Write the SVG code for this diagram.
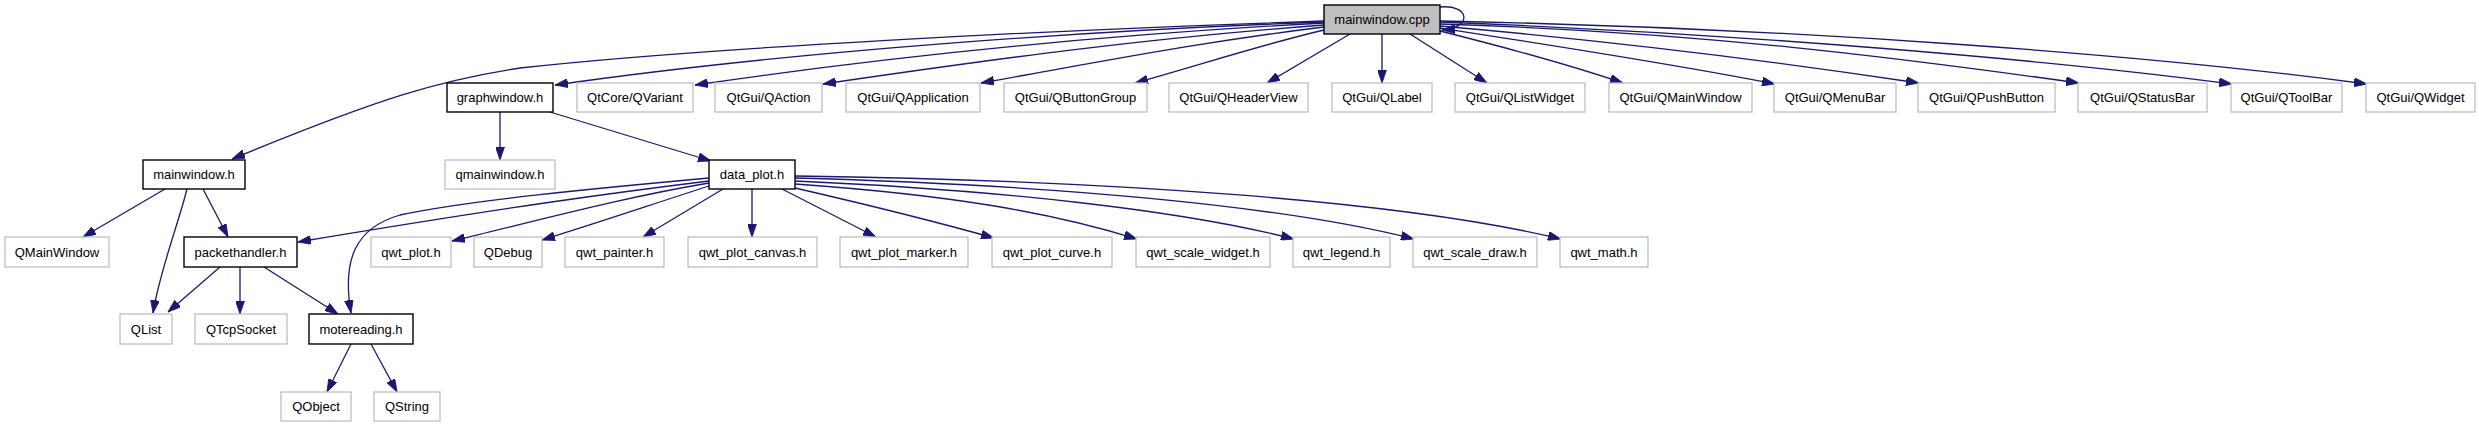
<svg xmlns="http://www.w3.org/2000/svg" width="2479" height="427" viewBox="0 0 2479 427">
<style>
.n rect{fill:#fff;stroke:#bfbfbf;stroke-width:1.3}
.n.b rect{stroke:#000;stroke-width:1.4}
.n.r rect{fill:#bfbfbf;stroke:#000;stroke-width:1.4}
.n text{font-family:"Liberation Sans",Arial,Helvetica,sans-serif;font-size:13px;fill:#000;text-anchor:middle}
.e path{fill:none;stroke:#191970;stroke-width:1.3;marker-end:url(#ah)}
</style>
<defs>
<marker id="ah" markerUnits="userSpaceOnUse" viewBox="0 0 13 9" markerWidth="13" markerHeight="9" refX="13" refY="4.5" orient="auto">
<path d="M0,0 L13,4.5 L0,9 Z" fill="#191970" stroke="#191970" stroke-width="0.8"/>
</marker>
</defs>
<rect width="2479" height="427" fill="#fff"/>
<g id="edges" class="e">
<path d="M1324,21 C1050,30 700,48 520,68 C440,80 380,98 232,159"/>
<path d="M1324,22 C1100,30 800,50 555,85"/>
<path d="M1324,23 C1100,35 900,55 695,85"/>
<path d="M1324,25 C1150,38 1000,58 823,84"/>
<path d="M1324,27 C1200,42 1100,62 981,83"/>
<path d="M1324,30 C1260,45 1200,65 1135,83"/>
<path d="M1350,34 L1267,83"/>
<path d="M1382,34 L1382,83"/>
<path d="M1410,34 L1487,83"/>
<path d="M1440,31 C1500,46 1570,65 1623,83"/>
<path d="M1440,28 C1550,45 1680,65 1775,84"/>
<path d="M1440,26 C1600,40 1780,62 1919,83"/>
<path d="M1440,24 C1700,32 1900,58 2079,83"/>
<path d="M1440,22 C1750,34 2050,60 2232,84"/>
<path d="M1440,21 C1800,28 2150,55 2367,84"/>
<path d="M1440,7 C1470,4 1473,28 1442,30"/>
<path d="M500,112 L500,160"/>
<path d="M550,112 L711,161"/>
<path d="M165,189 L83,237"/>
<path d="M187,189 C178,225 160,270 153,313"/>
<path d="M203,189 L228,237"/>
<path d="M709,181 C620,192 520,205 298,242"/>
<path d="M709,178 C600,188 470,200 400,215 C355,228 342,260 351,313"/>
<path d="M709,183 C620,198 540,220 452,241"/>
<path d="M709,186 C650,205 600,222 542,240"/>
<path d="M723,189 L643,237"/>
<path d="M752,189 L752,237"/>
<path d="M782,189 L876,237"/>
<path d="M795,188 C860,203 930,220 994,238"/>
<path d="M795,184 C950,195 1050,212 1137,239"/>
<path d="M795,181 C1000,190 1180,210 1294,239"/>
<path d="M795,178 C1050,185 1280,205 1414,239"/>
<path d="M795,176 C1100,180 1400,200 1561,239"/>
<path d="M220,267 L168,312"/>
<path d="M240,267 L240,314"/>
<path d="M264,267 L338,314"/>
<path d="M351,344 L327,392"/>
<path d="M371,344 L397,392"/>
</g>
<g id="n_mainwindow_cpp" class="n r"><rect x="1324" y="5" width="116" height="29"/><text x="1382" y="24">mainwindow.cpp</text></g>
<g id="n_graphwindow_h" class="n b"><rect x="447" y="83" width="106" height="29"/><text x="500" y="102">graphwindow.h</text></g>
<g id="n_qvariant" class="n"><rect x="577" y="83" width="116" height="29"/><text x="635" y="102">QtCore/QVariant</text></g>
<g id="n_qaction" class="n"><rect x="715" y="83" width="107" height="29"/><text x="768.5" y="102">QtGui/QAction</text></g>
<g id="n_qapplication" class="n"><rect x="846" y="83" width="134" height="29"/><text x="913" y="102">QtGui/QApplication</text></g>
<g id="n_qbuttongroup" class="n"><rect x="1004" y="83" width="143" height="29"/><text x="1075.5" y="102">QtGui/QButtonGroup</text></g>
<g id="n_qheaderview" class="n"><rect x="1169" y="83" width="139" height="29"/><text x="1238.5" y="102">QtGui/QHeaderView</text></g>
<g id="n_qlabel" class="n"><rect x="1332" y="83" width="100" height="29"/><text x="1382" y="102">QtGui/QLabel</text></g>
<g id="n_qlistwidget" class="n"><rect x="1455" y="83" width="130" height="29"/><text x="1520" y="102">QtGui/QListWidget</text></g>
<g id="n_qmainwindow_gui" class="n"><rect x="1609" y="83" width="143" height="29"/><text x="1680.5" y="102">QtGui/QMainWindow</text></g>
<g id="n_qmenubar" class="n"><rect x="1774" y="83" width="122" height="29"/><text x="1835" y="102">QtGui/QMenuBar</text></g>
<g id="n_qpushbutton" class="n"><rect x="1918" y="83" width="137" height="29"/><text x="1986.5" y="102">QtGui/QPushButton</text></g>
<g id="n_qstatusbar" class="n"><rect x="2078" y="83" width="129" height="29"/><text x="2142.5" y="102">QtGui/QStatusBar</text></g>
<g id="n_qtoolbar" class="n"><rect x="2231" y="83" width="111" height="29"/><text x="2286.5" y="102">QtGui/QToolBar</text></g>
<g id="n_qwidget" class="n"><rect x="2366" y="83" width="109" height="29"/><text x="2420.5" y="102">QtGui/QWidget</text></g>
<g id="n_mainwindow_h" class="n b"><rect x="143" y="160" width="102" height="29"/><text x="194" y="179">mainwindow.h</text></g>
<g id="n_qmainwindow_h" class="n"><rect x="445" y="160" width="110" height="29"/><text x="500" y="179">qmainwindow.h</text></g>
<g id="n_data_plot_h" class="n b"><rect x="709" y="160" width="86" height="29"/><text x="752" y="179">data_plot.h</text></g>
<g id="n_qmainwindow" class="n"><rect x="5" y="237" width="104" height="30"/><text x="57" y="256.5">QMainWindow</text></g>
<g id="n_packethandler_h" class="n b"><rect x="184" y="237" width="113" height="30"/><text x="240.5" y="256.5">packethandler.h</text></g>
<g id="n_qwt_plot_h" class="n"><rect x="371" y="237" width="80" height="30"/><text x="411" y="256.5">qwt_plot.h</text></g>
<g id="n_qdebug" class="n"><rect x="474" y="237" width="68" height="30"/><text x="508" y="256.5">QDebug</text></g>
<g id="n_qwt_painter_h" class="n"><rect x="565" y="237" width="99" height="30"/><text x="614.5" y="256.5">qwt_painter.h</text></g>
<g id="n_qwt_plot_canvas_h" class="n"><rect x="688" y="237" width="129" height="30"/><text x="752.5" y="256.5">qwt_plot_canvas.h</text></g>
<g id="n_qwt_plot_marker_h" class="n"><rect x="840" y="237" width="128" height="30"/><text x="904" y="256.5">qwt_plot_marker.h</text></g>
<g id="n_qwt_plot_curve_h" class="n"><rect x="992" y="237" width="120" height="30"/><text x="1052" y="256.5">qwt_plot_curve.h</text></g>
<g id="n_qwt_scale_widget_h" class="n"><rect x="1136" y="237" width="134" height="30"/><text x="1203" y="256.5">qwt_scale_widget.h</text></g>
<g id="n_qwt_legend_h" class="n"><rect x="1293" y="237" width="97" height="30"/><text x="1341.5" y="256.5">qwt_legend.h</text></g>
<g id="n_qwt_scale_draw_h" class="n"><rect x="1413" y="237" width="124" height="30"/><text x="1475" y="256.5">qwt_scale_draw.h</text></g>
<g id="n_qwt_math_h" class="n"><rect x="1560" y="237" width="88" height="30"/><text x="1604" y="256.5">qwt_math.h</text></g>
<g id="n_qlist" class="n"><rect x="120" y="314" width="52" height="30"/><text x="146" y="333.5">QList</text></g>
<g id="n_qtcpsocket" class="n"><rect x="195" y="314" width="92" height="30"/><text x="241" y="333.5">QTcpSocket</text></g>
<g id="n_motereading_h" class="n b"><rect x="309" y="314" width="104" height="30"/><text x="361" y="333.5">motereading.h</text></g>
<g id="n_qobject" class="n"><rect x="281" y="392" width="70" height="29"/><text x="316" y="411">QObject</text></g>
<g id="n_qstring" class="n"><rect x="374" y="392" width="66" height="29"/><text x="407" y="411">QString</text></g>
</svg>
